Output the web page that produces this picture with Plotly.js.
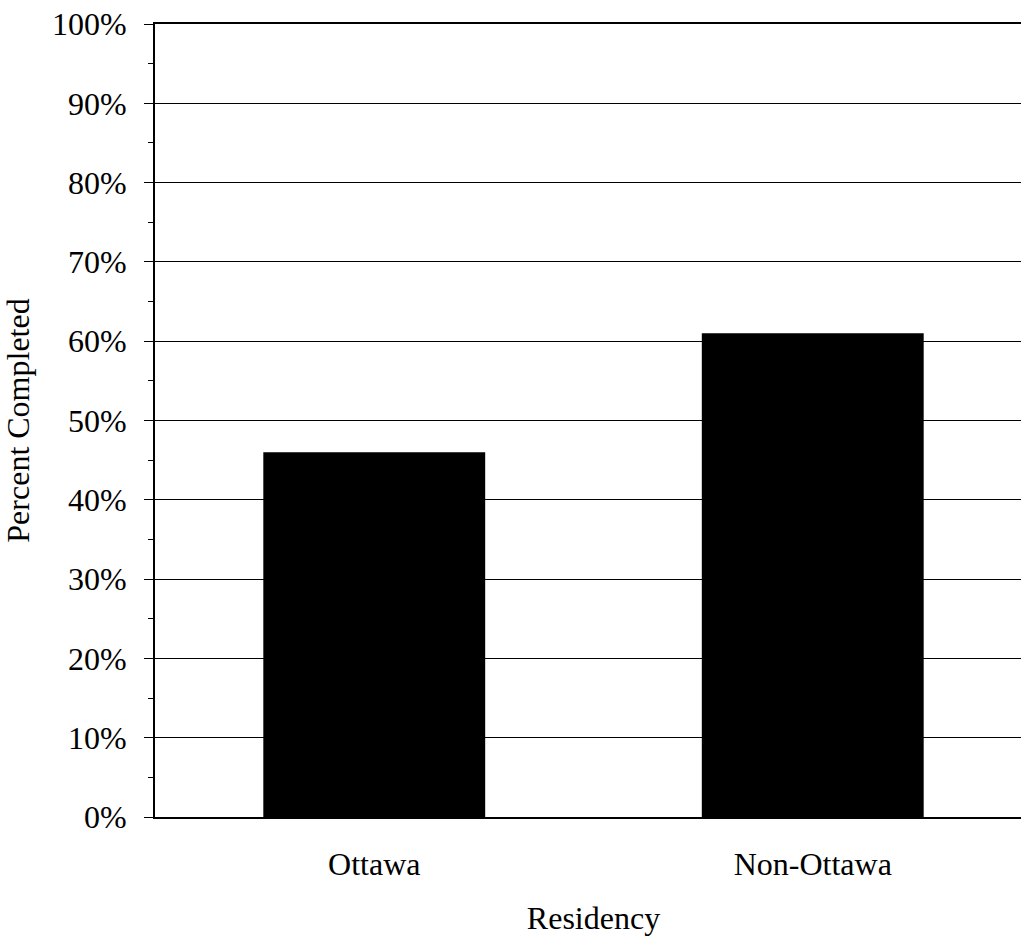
<!DOCTYPE html>
<html>
<head>
<meta charset="utf-8">
<script src="https://cdn.plot.ly/plotly-3.0.1.min.js"></script>
<style>
  html, body { margin: 0; padding: 0; overflow: hidden; background: #fff; width: 1021px; height: 938px; }
  #chart { width: 1032px; height: 938px; }
</style>
</head>
<body>
<div id="chart"></div>
<script>
const categories = ["Ottawa", "Non-Ottawa"];
const percentCompleted = [46, 61];
const yTickValues = [0, 10, 20, 30, 40, 50, 60, 70, 80, 90, 100];
const yTickLabels = ["0%", "10%", "20%", "30%", "40%", "50%", "60%", "70%", "80%", "90%", "100%"];

const FAMILY = "Liberation Serif, Times New Roman, serif";
function mkFont() { return { family: FAMILY, size: 32, color: "#000" }; }

const data = [{
  type: "bar",
  x: categories,
  y: percentCompleted,
  marker: { color: "#000", line: { color: "#000", width: 0 } },
  hoverinfo: "x+y"
}];

const layout = {
  width: 1032,
  height: 938,
  margin: { l: 155, r: 0, t: 24, b: 121, pad: 0 },
  paper_bgcolor: "#fff",
  plot_bgcolor: "#fff",
  font: mkFont(),
  showlegend: false,
  bargap: 0.494,
  xaxis: {
    type: "category",
    range: [-0.5, 1.5],
    showline: true,
    mirror: true,
    linecolor: "#000",
    linewidth: 2,
    showgrid: false,
    ticks: "",
    ticklabelstandoff: 18,
    tickfont: mkFont(),
    title: { text: "Residency", font: mkFont(), standoff: 25 },
    automargin: false,
    fixedrange: true
  },
  yaxis: {
    range: [0, 100],
    tickmode: "array",
    tickvals: yTickValues,
    ticktext: yTickLabels,
    showline: true,
    linecolor: "#000",
    linewidth: 2,
    showgrid: true,
    gridcolor: "#000",
    gridwidth: 1,
    zeroline: false,
    ticks: "outside",
    ticklen: 9,
    tickwidth: 1,
    tickcolor: "#000",
    minor: { tickmode: "linear", dtick: 5, ticks: "outside", ticklen: 5, tickwidth: 1, tickcolor: "#000", showgrid: false },
    ticklabelstandoff: 11,
    tickfont: mkFont(),
    title: { text: "Percent Completed", font: mkFont(), standoff: 14 },
    automargin: false,
    fixedrange: true
  }
};

Plotly.newPlot("chart", data, layout, { displayModeBar: false, staticPlot: true });
</script>
</body>
</html>
